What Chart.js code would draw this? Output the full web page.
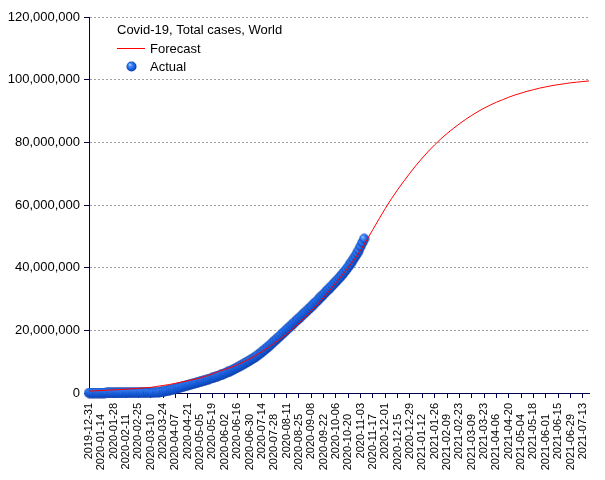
<!DOCTYPE html>
<html>
<head>
<meta charset="utf-8">
<script src="https://cdn.jsdelivr.net/npm/chart.js@4.4.1/dist/chart.umd.min.js"></script>
<style>
  html, body { margin: 0; padding: 0; background: #fff; }
  canvas { display: block; }
</style>
</head>
<body>
<canvas id="chart" width="605" height="480"></canvas>
<script>
// Covid-19 world total cases: forecast curve + actual points.
// Day 0 = 2019-12-31; x axis in days, labelled every 14 days.

const CHART_TITLE = 'Covid-19, Total cases, World';
const SERIES_NAMES = ['Forecast', 'Actual'];

const tickLabels = [
  '2019-12-31', '2020-01-14', '2020-01-28', '2020-02-11', '2020-02-25',
  '2020-03-10', '2020-03-24', '2020-04-07', '2020-04-21', '2020-05-05',
  '2020-05-19', '2020-06-02', '2020-06-16', '2020-06-30', '2020-07-14',
  '2020-07-28', '2020-08-11', '2020-08-25', '2020-09-08', '2020-09-22',
  '2020-10-06', '2020-10-20', '2020-11-03', '2020-11-17', '2020-12-01',
  '2020-12-15', '2020-12-29', '2021-01-12', '2021-01-26', '2021-02-09',
  '2021-02-23', '2021-03-09', '2021-03-23', '2021-04-06', '2021-04-20',
  '2021-05-04', '2021-05-18', '2021-06-01', '2021-06-15', '2021-06-29',
  '2021-07-13',
];
const TICK_STEP_DAYS = 14;
const LAST_DAY = 567;

// forecast, millions, one value every 7 days from day 0
const FORECAST_STEP = 7;
const forecastMillions = [
  0.6, 0.7, 0.8, 0.9, 1.0, 1.1, 1.2, 1.35, 1.5, 1.65,
  1.8, 2.1, 2.4, 2.7, 3.1, 3.5, 3.9, 4.3, 4.8, 5.4,
  6.1, 6.9, 7.5, 8.2, 9.0, 9.9, 10.9, 12.0, 13.2, 14.5,
  15.9, 17.3, 18.8, 20.5, 22.3, 24.2, 26.2, 28.3, 30.5, 32.8,
  35.2, 37.6, 40.1, 42.7, 45.6, 48.8, 52.2, 55.6, 58.9, 62.0,
  64.9, 67.6, 70.2, 72.7, 75.0, 77.2, 79.2, 81.1, 82.8, 84.4,
  85.9, 87.3, 88.6, 89.8, 90.9, 91.9, 92.8, 93.6, 94.4, 95.1,
  95.7, 96.3, 96.8, 97.3, 97.7, 98.1, 98.4, 98.7, 99.0, 99.2,
  99.4, 99.6,
];

// actual, millions, one value every 2 days from day 0
const ACTUAL_STEP = 2;
const actualMillions = [
  0, 0, 0, 0, 0, 0, 0, 0, 0, 0,
  0.0003, 0.0006, 0.0008, 0.002, 0.004, 0.008, 0.012, 0.017, 0.024, 0.031,
  0.037, 0.045, 0.051, 0.064, 0.069, 0.073, 0.076, 0.078, 0.080, 0.083,
  0.086, 0.090, 0.095, 0.102, 0.110, 0.119, 0.135, 0.156, 0.18, 0.22,
  0.27, 0.34, 0.42, 0.53, 0.66, 0.80, 0.93, 1.07, 1.20, 1.35,
  1.52, 1.68, 1.85, 2.01, 2.18, 2.33, 2.48, 2.64, 2.79, 2.95,
  3.11, 3.27, 3.42, 3.58, 3.75, 3.92, 4.09, 4.26, 4.45, 4.62,
  4.80, 5.00, 5.20, 5.40, 5.61, 5.82, 6.05, 6.27, 6.52, 6.77,
  7.02, 7.27, 7.55, 7.83, 8.10, 8.40, 8.71, 9.03, 9.35, 9.68,
  10.0, 10.3, 10.7, 11.05, 11.4, 11.8, 12.2, 12.6, 13.1, 13.55,
  14.0, 14.5, 14.95, 15.45, 16.0, 16.5, 17.05, 17.55, 18.05, 18.6,
  19.1, 19.65, 20.2, 20.7, 21.2, 21.75, 22.25, 22.8, 23.3, 23.8,
  24.35, 24.9, 25.4, 25.95, 26.5, 27.0, 27.5, 28.1, 28.7, 29.2,
  29.8, 30.4, 30.95, 31.5, 32.1, 32.7, 33.2, 33.8, 34.4, 35.0,
  35.6, 36.2, 36.8, 37.4, 38.1, 38.8, 39.5, 40.3, 41.1, 41.9,
  42.8, 43.7, 44.6, 45.6, 46.8, 48.0, 49.2,
];

const Y_MAX = 120000000;
const Y_STEP = 20000000;

const COLORS = {
  axis: '#00004d',
  grid: '#a0a0a0',
  forecast: '#ff0000',
  text: '#000000',
};
const FONT = '"Liberation Sans", Arial, sans-serif';

// blue sphere used as point marker
function makeSphere(r) {
  const c = document.createElement('canvas');
  const size = r * 2 + 1;
  c.width = size;
  c.height = size;
  const g = c.getContext('2d');
  const grad = g.createRadialGradient(r * 0.75, r * 0.7, 0.3, r + 0.5, r + 0.5, r + 0.5);
  grad.addColorStop(0, '#a6cbff');
  grad.addColorStop(0.3, '#3f86f6');
  grad.addColorStop(0.65, '#1661e2');
  grad.addColorStop(0.9, '#0b3caa');
  grad.addColorStop(1, '#072470');
  g.fillStyle = grad;
  g.beginPath();
  g.arc(r + 0.5, r + 0.5, r, 0, Math.PI * 2);
  g.fill();
  return c;
}
const sphere = makeSphere(5);

const forecastData = forecastMillions.map((v, i) => ({ x: i * FORECAST_STEP, y: v * 1e6 }));
const actualData = actualMillions.map((v, i) => ({ x: i * ACTUAL_STEP, y: v * 1e6 }));

const legendBox = {
  id: 'legendBox',
  afterDraw(chart) {
    const ctx = chart.ctx;
    ctx.save();
    ctx.font = '13px ' + FONT;
    ctx.fillStyle = COLORS.text;
    ctx.textBaseline = 'alphabetic';
    ctx.fillText(CHART_TITLE, 117, 34);
    ctx.strokeStyle = COLORS.forecast;
    ctx.lineWidth = 1;
    ctx.beginPath();
    ctx.moveTo(117, 48.5);
    ctx.lineTo(145, 48.5);
    ctx.stroke();
    ctx.fillText(SERIES_NAMES[0], 150, 53);
    ctx.drawImage(sphere, 126, 61);
    ctx.fillText(SERIES_NAMES[1], 150, 71);
    ctx.restore();
  },
};

new Chart(document.getElementById('chart'), {
  type: 'scatter',
  data: {
    datasets: [
      {
        label: SERIES_NAMES[0],
        data: forecastData,
        showLine: true,
        borderColor: COLORS.forecast,
        borderWidth: 1,
        pointRadius: 0,
        fill: false,
        tension: 0,
        order: 0,
      },
      {
        label: SERIES_NAMES[1],
        data: actualData,
        showLine: false,
        pointStyle: sphere,
        pointRadius: 5,
        clip: false,
        order: 1,
      },
    ],
  },
  options: {
    responsive: false,
    animation: false,
    layout: { padding: { left: 0, right: 16, top: 17, bottom: 0 } },
    plugins: {
      legend: { display: false },
      tooltip: { enabled: false },
    },
    scales: {
      x: {
        type: 'linear',
        min: 0,
        max: LAST_DAY,
        afterBuildTicks: (scale) => {
          scale.ticks = tickLabels.map((_, i) => ({ value: i * TICK_STEP_DAYS }));
        },
        afterFit: (scale) => { scale.height = 87; },
        border: { color: COLORS.axis, width: 1 },
        grid: {
          drawOnChartArea: false,
          drawTicks: true,
          tickLength: 5,
          tickColor: COLORS.axis,
        },
        ticks: {
          autoSkip: false,
          minRotation: 90,
          maxRotation: 90,
          padding: 5,
          color: COLORS.text,
          font: { family: FONT, size: 11 },
          callback: (v) => {
            const i = Math.round(v / TICK_STEP_DAYS);
            const label = tickLabels[i] || '';
            return i % 2 ? label + '\u2002\u2002' : label;
          },
        },
      },
      y: {
        min: 0,
        max: Y_MAX,
        afterFit: (scale) => { scale.width = 89; },
        border: { color: COLORS.axis, width: 1, dash: [2, 2] },
        grid: {
          color: COLORS.grid,
          lineWidth: 1,
          drawTicks: true,
          tickLength: 5,
          tickColor: COLORS.axis,
        },
        ticks: {
          stepSize: Y_STEP,
          padding: 4,
          color: COLORS.text,
          font: { family: FONT, size: 13 },
          callback: (v) => v.toLocaleString('en-US'),
        },
      },
    },
  },
  plugins: [legendBox],
});
</script>
</body>
</html>
